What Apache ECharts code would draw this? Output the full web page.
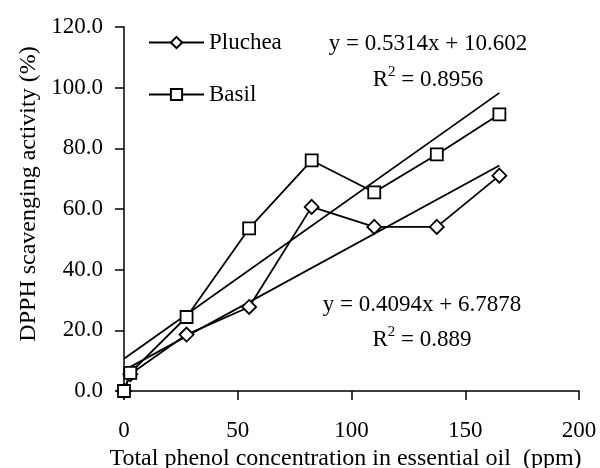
<!DOCTYPE html>
<html>
<head>
<meta charset="utf-8">
<script src="https://cdn.jsdelivr.net/npm/echarts@6/dist/echarts.min.js"></script>
<style>html,body{margin:0;padding:0;background:#fff;}#c{width:600px;height:468px;}</style>
</head>
<body>
<div id="c"></div>
<script>
// Data
var xValues = [0, 2.75, 27.5, 55, 82.5, 110, 137.5, 165];
var plucheaValues = [0, 5.5, 18.6, 27.7, 60.7, 54.1, 54.1, 71.0];
var basilValues = [0, 6.0, 24.4, 53.6, 76.0, 65.5, 78.0, 91.2];
var seriesNames = ['Pluchea', 'Basil'];
var trendSlope = [0.4094, 0.5314];
var trendIntercept = [6.7878, 10.602];
var trendXRange = [0, 165];
var xTicks = [0, 50, 100, 150, 200];
var yTicks = [0, 20, 40, 60, 80, 100, 120];
var eqTexts = ['y = 0.5314x + 10.602', '0.8956', 'y = 0.4094x + 6.7878', '0.889'];

var font = 'Liberation Serif';
function pairs(xs, ys) { return xs.map(function (x, i) { return [x, ys[i]]; }); }
function trend(k) {
  return trendXRange.map(function (x) { return [x, trendSlope[k] * x + trendIntercept[k]]; });
}
function r2Text(x, y, val) {
  return {type: 'text', x: x, y: y, style: {
    text: '{a|R}{s|2}{a| = ' + val + '}', align: 'center', verticalAlign: 'middle',
    rich: {a: {fontFamily: font, fontSize: 23, color: '#000', lineHeight: 30, verticalAlign: 'middle'},
           s: {fontFamily: font, fontSize: 15, color: '#000', lineHeight: 15, verticalAlign: 'top'}}}};
}

var chart = echarts.init(document.getElementById('c'), null, {renderer: 'canvas'});
var axisCommon = {
  axisLine: {show: true, lineStyle: {color: '#000', width: 1.5}},
  axisTick: {show: true, inside: false, length: 9, lineStyle: {color: '#000', width: 1.5}},
  splitLine: {show: false}
};
var option = {
  animation: false,
  backgroundColor: '#fff',
  grid: {left: 124, right: 21, top: 27, bottom: 77, containLabel: false, outerBoundsMode: 'none'},
  xAxis: Object.assign({}, axisCommon, {
    type: 'value', min: xTicks[0], max: xTicks[xTicks.length - 1], interval: 50,
    name: 'Total phenol concentration in essential oil  (ppm)',
    nameLocation: 'middle', nameGap: 56,
    nameTextStyle: {fontFamily: font, fontSize: 24, color: '#000', padding: [0, 12, 0, 0]},
    axisLabel: {fontFamily: font, fontSize: 23, color: '#000', margin: 28}
  }),
  yAxis: Object.assign({}, axisCommon, {
    type: 'value', min: yTicks[0], max: yTicks[yTicks.length - 1], interval: 20,
    name: 'DPPH scavenging activity (%)',
    nameLocation: 'middle', nameGap: 82,
    nameTextStyle: {fontFamily: font, fontSize: 24, color: '#000', padding: [0, 0, 0, 30]},
    axisLabel: {fontFamily: font, fontSize: 23, color: '#000', margin: 21,
      formatter: function (v) { return v.toFixed(1); }}
  }),
  legend: {
    data: seriesNames,
    orient: 'vertical', left: 148, top: 31, padding: 0,
    itemWidth: 55, itemHeight: 14, itemGap: 29,
    textStyle: {fontFamily: font, fontSize: 23, color: '#000', lineHeight: 23}
  },
  series: [
    {name: 'Pluchea', type: 'line', data: pairs(xValues, plucheaValues), clip: false,
      symbol: 'diamond', symbolSize: 14, showAllSymbol: true, z: 3,
      lineStyle: {color: '#000', width: 1.8},
      itemStyle: {color: '#fff', borderColor: '#000', borderWidth: 1.8}},
    {name: 'Basil', type: 'line', data: pairs(xValues, basilValues), clip: false,
      symbol: 'rect', symbolSize: 12, showAllSymbol: true, z: 4,
      lineStyle: {color: '#000', width: 1.8},
      itemStyle: {color: '#fff', borderColor: '#000', borderWidth: 1.8}},
    {name: 'trendP', type: 'line', data: trend(0), symbol: 'none', z: 2,
      lineStyle: {color: '#000', width: 1.8}, silent: true},
    {name: 'trendB', type: 'line', data: trend(1), symbol: 'none', z: 2,
      lineStyle: {color: '#000', width: 1.8}, silent: true}
  ],
  graphic: [
    {type: 'text', x: 428, y: 44, style: {text: eqTexts[0], font: '23px "' + font + '"', fill: '#000', align: 'center', verticalAlign: 'middle'}},
    r2Text(428, 80, eqTexts[1]),
    {type: 'text', x: 422, y: 305, style: {text: eqTexts[2], font: '23px "' + font + '"', fill: '#000', align: 'center', verticalAlign: 'middle'}},
    r2Text(422, 340, eqTexts[3])
  ]
};
chart.setOption(option);
</script>
</body>
</html>
